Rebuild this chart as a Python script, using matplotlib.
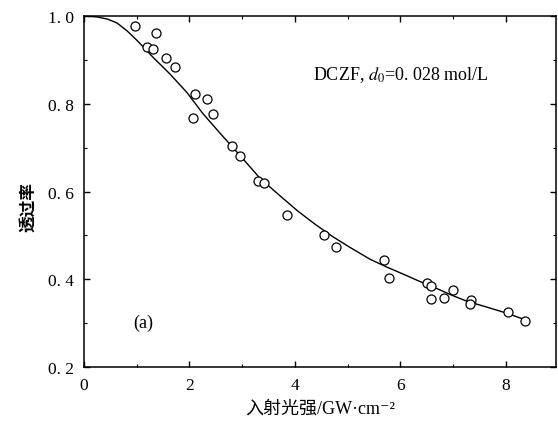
import numpy as np
import matplotlib
matplotlib.use('Agg')
import matplotlib.pyplot as plt
from matplotlib.ticker import MultipleLocator

# datos
intensidad = [0.97, 1.37, 1.19, 1.31, 1.56, 1.73, 2.10, 2.33, 2.06, 2.44,
              2.81, 2.95, 3.29, 3.42, 3.84, 4.55, 4.77, 5.69, 5.79, 6.50,
              6.58, 6.58, 6.82, 7.00, 7.34, 7.32, 8.03, 8.36]
transmit = [0.977, 0.961, 0.930, 0.925, 0.904, 0.883, 0.822, 0.812, 0.768, 0.777,
            0.703, 0.682, 0.625, 0.619, 0.546, 0.502, 0.473, 0.444, 0.402, 0.391,
            0.384, 0.355, 0.357, 0.375, 0.353, 0.344, 0.325, 0.306]

# curva de ajuste (puntos leidos)
curva_x = [0, 0.25, 0.45, 0.63, 0.82, 1.01, 1.31, 1.63, 1.95, 2.26, 2.58, 2.96,
           3.34, 3.72, 4.05, 4.41, 4.72, 5.04, 5.42, 5.74, 6.05, 6.37, 6.69, 6.97,
           7.26, 7.63, 8.01, 8.36]
curva_y = [1.0, 0.998, 0.993, 0.984, 0.966, 0.944, 0.906, 0.868, 0.826, 0.777,
           0.733, 0.682, 0.630, 0.590, 0.556, 0.523, 0.497, 0.473, 0.446, 0.428,
           0.412, 0.395, 0.379, 0.364, 0.350, 0.337, 0.323, 0.308]

xticks = [0, 2, 4, 6, 8]
yticks = [0.2, 0.4, 0.6, 0.8, 1.0]

plt.rcParams['font.family'] = ['Liberation Serif', 'Noto Sans CJK SC', 'DejaVu Serif']
plt.rcParams['mathtext.fontset'] = 'stix'

fig = plt.figure(figsize=(5.58, 4.27), dpi=100)
ax = fig.add_axes([0.1505, 0.138, 0.846, 0.822])

ax.plot(curva_x, curva_y, 'k-', lw=1.0)
ax.plot(intensidad, transmit, 'o', mfc='white', mec='black', ms=6.5, mew=0.9)

ax.set_xlim(0, 8.95)
ax.set_ylim(0.2, 1.0)
ax.set_xticks(xticks)
ax.set_yticks(yticks)
ax.set_yticklabels([('%.1f' % v).replace('.', '. ') for v in yticks])
ax.xaxis.set_minor_locator(MultipleLocator(1))
ax.yaxis.set_minor_locator(MultipleLocator(0.1))
ax.tick_params(which='both', direction='in', top=True, right=True, labelsize=12.5)
ax.tick_params(which='major', length=4, width=1, pad=7)
ax.tick_params(which='minor', length=2.5, width=0.8)
for s in ax.spines.values():
    s.set_linewidth(1.1)

ax.text(4.34, 0.868, 'DCZF, $d_0$=0. 028 mol/L', fontsize=13, ha='left', va='center')
ax.text(1.12, 0.303, '(a)', fontsize=13, ha='center', va='center')

ax.set_xlabel('入射光强/GW·cm⁻²', fontsize=13, labelpad=5)
ax.set_ylabel('透过率', fontsize=12, family=['Noto Sans CJK SC'], fontweight='bold')
ax.yaxis.set_label_coords(-0.100, 0.46)

fig.savefig('out.png', dpi=100)
